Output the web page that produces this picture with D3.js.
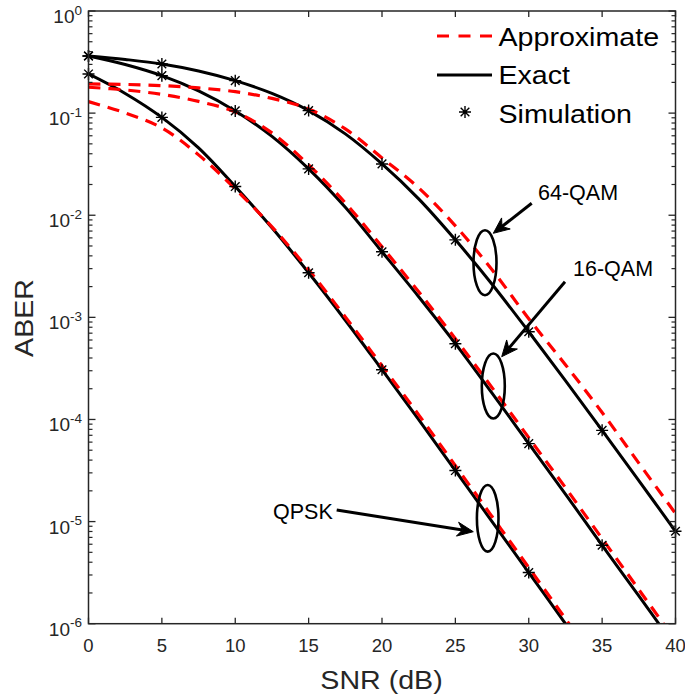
<!DOCTYPE html>
<html>
<head>
<meta charset="utf-8">
<script src="https://cdn.jsdelivr.net/npm/d3@7"></script>
<style>
  body { margin: 0; background: #fff; }
  text { font-family: Arial, "Liberation Sans", Helvetica, sans-serif; }
</style>
</head>
<body>
<svg id="chart" width="685" height="697"></svg>
<script>
// SNR grid (dB) used for the analytical curves
const snrGrid = [0, 2.5, 5, 7.5, 10, 12.5, 15, 17.5, 20, 22.5, 25, 27.5, 30, 32.5, 35, 37.5, 40];

// Exact ABER curves
const exact64 = [0.3629, 0.3353, 0.3029, 0.2588, 0.2080, 0.1559, 0.1058, 0.0626, 0.0318, 0.01447,
                 0.00574, 0.00211, 7.23e-4, 2.40e-4, 7.82e-5, 2.52e-5, 8.04e-6];
const exact16 = [0.3629, 0.2995, 0.2327, 0.1649, 0.1051, 0.05916, 0.02844, 0.01195, 0.004385, 0.00159,
                 5.52e-4, 1.81e-4, 5.80e-5, 1.86e-5, 5.86e-6, 1.87e-6, 5.92e-7];
const exactQPSK = [0.2419, 0.1559, 0.09077, 0.04565, 0.01909, 0.007527, 0.002732, 9.37e-4, 3.07e-4,
                   9.95e-5, 3.16e-5, 1.0e-5, 3.17e-6, 1.0e-6, 3.18e-7];

// Approximate ABER curves
const approx64 = [0.1931, 0.1909, 0.1858, 0.1764, 0.1623, 0.1393, 0.1099, 0.0700, 0.03643, 0.01854,
                  0.007877, 0.002923, 9.69e-4, 3.44e-4, 1.17e-4, 3.74e-5, 1.20e-5];
const approx16 = [0.1792, 0.1687, 0.1524, 0.1302, 0.1027, 0.0640, 0.03114, 0.01322, 0.004908, 0.00178,
                  6.17e-4, 2.05e-4, 6.64e-5, 2.15e-5, 6.82e-6, 2.16e-6, 6.85e-7];
const approxQPSK = [0.1296, 0.1005, 0.07165, 0.03899, 0.01813, 0.0077, 0.002923, 1.01e-3, 3.36e-4,
                    1.11e-4, 3.53e-5, 1.12e-5, 3.55e-6, 1.12e-6, 3.56e-7];

// Monte-Carlo simulation points
const snrSim = [0, 5, 10, 15, 20, 25, 30, 35, 40];
const sim64 = [0.3629, 0.3030, 0.2080, 0.1058, 0.0318, 0.00574, 7.23e-4, 7.82e-5, 8.04e-6];
const sim16 = [0.3629, 0.2327, 0.1051, 0.02844, 0.004385, 5.52e-4, 5.80e-5, 5.86e-6];
const simQPSK = [0.2419, 0.09077, 0.01909, 0.002732, 3.07e-4, 3.16e-5, 3.17e-6];

// Axis ticks
const xTicks = [0, 5, 10, 15, 20, 25, 30, 35, 40];
const yExponents = [0, -1, -2, -3, -4, -5, -6];

// Legend and annotation labels
const legendLabels = ["Approximate", "Exact", "Simulation"];
const schemeLabels = ["64-QAM", "16-QAM", "QPSK"];

const svg = d3.select("#chart");
const pLeft = 88.5, pRight = 675.5, pTop = 11, pBottom = 623.7;
const x = d3.scaleLinear().domain([0, 40]).range([pLeft, pRight]);
const y = d3.scaleLog().domain([1e-6, 1]).range([pBottom, pTop]);
const axisColor = "#262626";

// clip region for the curves
svg.append("defs").append("clipPath").attr("id", "plotClip")
  .append("rect").attr("x", pLeft).attr("y", pTop)
  .attr("width", pRight - pLeft).attr("height", pBottom - pTop);

const plot = svg.append("g").attr("clip-path", "url(#plotClip)");
const line = d3.line().curve(d3.curveCatmullRom.alpha(0.5))
  .x(d => x(d[0])).y(d => y(d[1]));
const pairs = (xs, ys) => ys.map((v, i) => [xs[i], v]);

// exact curves (solid black)
[exact64, exact16, exactQPSK].forEach(s => {
  plot.append("path").attr("d", line(pairs(snrGrid, s)))
    .attr("fill", "none").attr("stroke", "#000").attr("stroke-width", 3);
});
// approximate curves (dashed red)
[approx64, approx16, approxQPSK].forEach(s => {
  plot.append("path").attr("d", line(pairs(snrGrid, s)))
    .attr("fill", "none").attr("stroke", "#ff0000").attr("stroke-width", 3.2)
    .attr("stroke-dasharray", "12,8");
});

// asterisk marker
const starPath = (r) => {
  const d = r * 0.72;
  return `M${-r},0H${r}M0,${-r}V${r}M${-d},${-d}L${d},${d}M${-d},${d}L${d},${-d}`;
};
[sim64, sim16, simQPSK].forEach(s => {
  svg.append("g").selectAll("path").data(pairs(snrSim, s)).join("path")
    .attr("transform", d => `translate(${x(d[0])},${y(d[1])})`)
    .attr("d", starPath(6)).attr("fill", "none")
    .attr("stroke", "#000").attr("stroke-width", 1.4);
});

// axes box
const axes = svg.append("g");
axes.append("rect").attr("x", pLeft).attr("y", pTop)
  .attr("width", pRight - pLeft).attr("height", pBottom - pTop)
  .attr("fill", "none").attr("stroke", axisColor).attr("stroke-width", 1.5);

// x ticks (inward, bottom and top)
xTicks.forEach(t => {
  const px = x(t);
  axes.append("line").attr("x1", px).attr("x2", px).attr("y1", pBottom).attr("y2", pBottom - 6)
    .attr("stroke", axisColor).attr("stroke-width", 1.3);
  axes.append("line").attr("x1", px).attr("x2", px).attr("y1", pTop).attr("y2", pTop + 6)
    .attr("stroke", axisColor).attr("stroke-width", 1.3);
  axes.append("text").attr("x", px).attr("y", pBottom + 28)
    .attr("text-anchor", "middle").attr("font-size", 18.5).attr("fill", axisColor).text(t);
});

// y ticks: decades with labels, minor ticks between
yExponents.forEach(e => {
  const py = y(Math.pow(10, e));
  [[pLeft, pLeft + 7], [pRight, pRight - 7]].forEach(([a, b]) =>
    axes.append("line").attr("x1", a).attr("x2", b).attr("y1", py).attr("y2", py)
      .attr("stroke", axisColor).attr("stroke-width", 1.3));
  const t = axes.append("text").attr("x", 82).attr("y", py + 12)
    .attr("text-anchor", "end").attr("font-size", 19).attr("fill", axisColor);
  t.append("tspan").text("10");
  t.append("tspan").attr("dy", -8.5).attr("font-size", 13.5).text(e);
  if (e > -6) {
    for (let m = 2; m <= 9; m++) {
      const pm = y(m * Math.pow(10, e - 1));
      [[pLeft, pLeft + 4], [pRight, pRight - 4]].forEach(([a, b]) =>
        axes.append("line").attr("x1", a).attr("x2", b).attr("y1", pm).attr("y2", pm)
          .attr("stroke", axisColor).attr("stroke-width", 1.2));
    }
  }
});

// axis titles
const midX = (pLeft + pRight) / 2;
axes.append("text").attr("transform", `translate(${midX - 0.5},689) scale(1.1,1)`)
  .attr("text-anchor", "middle").attr("font-size", 26).attr("fill", axisColor)
  .text("SNR (dB)");
axes.append("text").attr("transform", "translate(33,318) rotate(-90) scale(1.1,1)")
  .attr("text-anchor", "middle").attr("font-size", 26).attr("fill", axisColor).text("ABER");

// legend
const leg = svg.append("g");
leg.append("line").attr("x1", 437).attr("x2", 492).attr("y1", 36).attr("y2", 36)
  .attr("stroke", "#ff0000").attr("stroke-width", 3.2).attr("stroke-dasharray", "12,9.5");
leg.append("line").attr("x1", 437).attr("x2", 492).attr("y1", 75).attr("y2", 75)
  .attr("stroke", "#000").attr("stroke-width", 3);
leg.append("path").attr("transform", "translate(465,112)").attr("d", starPath(6))
  .attr("fill", "none").attr("stroke", "#000").attr("stroke-width", 1.4);
legendLabels.forEach((s, i) => {
  leg.append("text")
    .attr("transform", `translate(498.5,${46 + i * 38.3}) scale(1.1,1)`)
    .attr("font-size", 26).attr("fill", "#000").text(s);
});

// annotations: labels, arrows and ellipses
const ann = svg.append("g");
const arrow = (x1, y1, x2, y2) => {
  const ang = Math.atan2(y2 - y1, x2 - x1);
  const L = 16, W = 7, N = 11;
  const ca = Math.cos(ang), sa = Math.sin(ang);
  const pt = (a, b) => [x2 - a * ca + b * -sa, y2 - a * sa + b * ca];
  const p1 = pt(L, W), p2 = pt(N, 0), p3 = pt(L, -W);
  ann.append("line").attr("x1", x1).attr("y1", y1).attr("x2", p2[0]).attr("y2", p2[1])
    .attr("stroke", "#000").attr("stroke-width", 3);
  ann.append("path").attr("d", `M${x2},${y2}L${p1}L${p2}L${p3}Z`).attr("fill", "#000")
    .attr("stroke", "#000").attr("stroke-width", 1);
};
const ellipse = (cx, cy, rx, ry) =>
  ann.append("ellipse").attr("cx", cx).attr("cy", cy).attr("rx", rx).attr("ry", ry)
    .attr("fill", "none").attr("stroke", "#000").attr("stroke-width", 2.6);

ann.append("text").attr("x", 538).attr("y", 200).attr("font-size", 21.5).text(schemeLabels[0]);
arrow(531.7, 203.3, 493.3, 233.3);
ellipse(485, 262.7, 11.5, 32.5);

ann.append("text").attr("x", 573).attr("y", 276).attr("font-size", 21.5).text(schemeLabels[1]);
arrow(565, 281.7, 501.7, 356.7);
ellipse(493.3, 386, 11.5, 32.5);

ann.append("text").attr("x", 273).attr("y", 518.5).attr("font-size", 21.5).text(schemeLabels[2]);
arrow(336.7, 510, 473.3, 531.7);
ellipse(487.7, 518.3, 10.8, 33.3);
</script>
</body>
</html>
